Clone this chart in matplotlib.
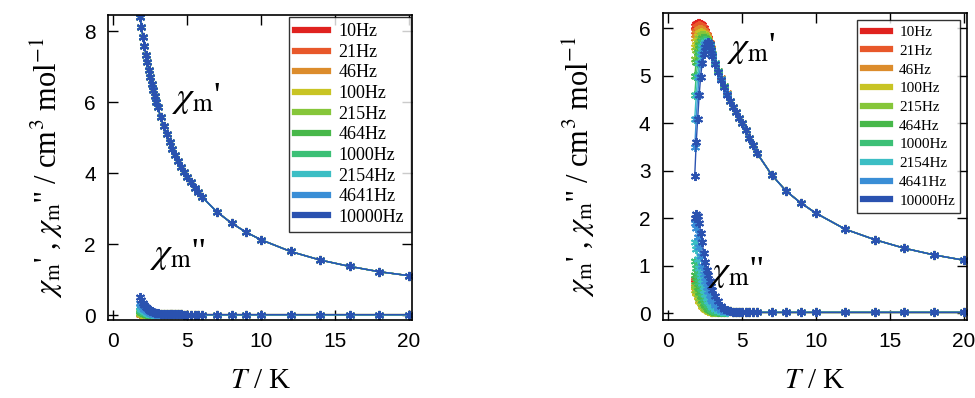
import matplotlib
matplotlib.use("Agg")
import matplotlib.pyplot as plt
import numpy as np
from matplotlib.lines import Line2D

plt.rcParams['mathtext.fontset'] = 'stix'

# ---- data ----
freqs = ["10Hz", "21Hz", "46Hz", "100Hz", "215Hz", "464Hz", "1000Hz", "2154Hz", "4641Hz", "10000Hz"]
colors = ["#e0221f", "#e8582a", "#dc8c2c", "#c8c424", "#86c63a", "#48b84a",
          "#3cc076", "#3cbec4", "#3a8ed6", "#2a52b0"]

# temperatures: dense low-T part and sparse high-T part
T_low = [1.8, 1.9, 2.0, 2.1, 2.2, 2.3, 2.4, 2.5, 2.6, 2.7, 2.8, 2.9, 3.0, 3.2, 3.4, 3.6, 3.8, 4.0]
T_high = [4.2, 4.4, 4.6, 4.8, 5.0, 5.25, 5.5, 5.75, 6.0, 7, 8, 9, 10, 12, 14, 16, 18, 20]

# left panel: chi' (all frequencies overlap)
chi1_left_low = [8.41, 8.11, 7.84, 7.58, 7.34, 7.12, 6.90, 6.71, 6.52, 6.34, 6.17, 6.01,
                 5.86, 5.58, 5.32, 5.09, 4.87, 4.68]
chi1_left_high = [4.50, 4.33, 4.17, 4.03, 3.89, 3.74, 3.59, 3.46, 3.33, 2.91, 2.59, 2.33,
                  2.12, 1.79, 1.55, 1.37, 1.22, 1.11]

# left panel: chi'' per frequency (low T), common tail
chi2_left_low = {
    "10Hz":    [0.02, 0.02, 0.02, 0.02, 0.02, 0.02, 0.02, 0.02, 0.02, 0.02, 0.03, 0.03, 0.04, 0.04, 0.04, 0.04, 0.03, 0.03],
    "21Hz":    [0.02, 0.02, 0.02, 0.02, 0.02, 0.02, 0.02, 0.02, 0.02, 0.02, 0.02, 0.03, 0.03, 0.03, 0.03, 0.03, 0.03, 0.02],
    "46Hz":    [0.03, 0.03, 0.03, 0.02, 0.02, 0.02, 0.02, 0.02, 0.02, 0.02, 0.02, 0.02, 0.02, 0.02, 0.02, 0.02, 0.02, 0.02],
    "100Hz":   [0.05, 0.04, 0.04, 0.03, 0.03, 0.02, 0.02, 0.02, 0.02, 0.02, 0.02, 0.02, 0.02, 0.02, 0.02, 0.02, 0.02, 0.02],
    "215Hz":   [0.07, 0.06, 0.05, 0.04, 0.03, 0.03, 0.03, 0.02, 0.02, 0.02, 0.02, 0.02, 0.02, 0.02, 0.02, 0.02, 0.02, 0.02],
    "464Hz":   [0.10, 0.08, 0.07, 0.05, 0.04, 0.04, 0.03, 0.03, 0.03, 0.02, 0.02, 0.02, 0.02, 0.02, 0.02, 0.02, 0.02, 0.02],
    "1000Hz":  [0.15, 0.12, 0.10, 0.08, 0.06, 0.05, 0.04, 0.04, 0.03, 0.03, 0.03, 0.02, 0.02, 0.02, 0.02, 0.02, 0.02, 0.02],
    "2154Hz":  [0.22, 0.18, 0.14, 0.11, 0.09, 0.07, 0.06, 0.05, 0.04, 0.04, 0.03, 0.03, 0.03, 0.02, 0.02, 0.02, 0.02, 0.02],
    "4641Hz":  [0.33, 0.27, 0.22, 0.18, 0.14, 0.11, 0.09, 0.07, 0.06, 0.05, 0.04, 0.04, 0.03, 0.03, 0.02, 0.02, 0.02, 0.02],
    "10000Hz": [0.50, 0.42, 0.35, 0.29, 0.24, 0.19, 0.15, 0.12, 0.10, 0.08, 0.07, 0.06, 0.05, 0.04, 0.03, 0.03, 0.02, 0.02],
}
chi2_left_high = [0.02, 0.02, 0.02, 0.01, 0.01, 0.01, 0.01, 0.01, 0.01, 0.01, 0.01, 0.01,
                  0.01, 0.01, 0.01, 0.01, 0.01, 0.01]

# right panel: chi' per frequency (low T), common tail
chi1_right_low = {
    "10Hz":    [6.05, 6.10, 6.12, 6.12, 6.10, 6.06, 6.00, 5.94, 5.87, 5.79, 5.70, 5.58, 5.47, 5.28, 5.11, 4.95, 4.79, 4.63],
    "21Hz":    [5.95, 6.02, 6.05, 6.06, 6.05, 6.02, 5.97, 5.92, 5.86, 5.78, 5.69, 5.58, 5.47, 5.28, 5.11, 4.95, 4.79, 4.63],
    "46Hz":    [5.80, 5.90, 5.96, 5.98, 5.98, 5.97, 5.93, 5.88, 5.83, 5.76, 5.68, 5.57, 5.46, 5.28, 5.11, 4.95, 4.79, 4.63],
    "100Hz":   [5.60, 5.74, 5.84, 5.90, 5.92, 5.91, 5.89, 5.85, 5.80, 5.74, 5.67, 5.57, 5.46, 5.27, 5.10, 4.94, 4.78, 4.62],
    "215Hz":   [5.35, 5.55, 5.70, 5.80, 5.85, 5.86, 5.85, 5.82, 5.78, 5.72, 5.65, 5.56, 5.46, 5.27, 5.10, 4.94, 4.78, 4.62],
    "464Hz":   [5.00, 5.30, 5.50, 5.65, 5.74, 5.79, 5.80, 5.79, 5.76, 5.71, 5.64, 5.55, 5.45, 5.27, 5.10, 4.94, 4.78, 4.62],
    "1000Hz":  [4.60, 5.00, 5.28, 5.48, 5.62, 5.71, 5.75, 5.76, 5.74, 5.69, 5.63, 5.54, 5.45, 5.26, 5.10, 4.94, 4.78, 4.62],
    "2154Hz":  [4.10, 4.60, 4.98, 5.26, 5.46, 5.60, 5.68, 5.72, 5.72, 5.68, 5.62, 5.53, 5.44, 5.26, 5.09, 4.93, 4.77, 4.61],
    "4641Hz":  [3.50, 4.10, 4.60, 4.98, 5.26, 5.46, 5.58, 5.66, 5.69, 5.67, 5.61, 5.52, 5.43, 5.25, 5.09, 4.93, 4.77, 4.61],
    "10000Hz": [2.90, 3.60, 4.10, 4.60, 4.98, 5.26, 5.46, 5.60, 5.68, 5.72, 5.66, 5.54, 5.42, 5.24, 5.08, 4.92, 4.76, 4.60],
}
chi1_right_high = [4.48, 4.35, 4.23, 4.11, 4.00, 3.85, 3.70, 3.55, 3.38, 2.92, 2.57, 2.32,
                   2.11, 1.77, 1.55, 1.37, 1.23, 1.12]

# right panel: chi'' per frequency (low T), common tail
chi2_right_low = {
    "10Hz":    [0.72, 0.65, 0.55, 0.45, 0.36, 0.28, 0.22, 0.17, 0.13, 0.10, 0.08, 0.06, 0.05, 0.04, 0.03, 0.03, 0.03, 0.03],
    "21Hz":    [0.68, 0.58, 0.47, 0.37, 0.29, 0.22, 0.17, 0.13, 0.10, 0.07, 0.05, 0.04, 0.03, 0.03, 0.03, 0.03, 0.03, 0.03],
    "46Hz":    [0.55, 0.45, 0.36, 0.28, 0.21, 0.16, 0.12, 0.09, 0.07, 0.05, 0.04, 0.03, 0.03, 0.03, 0.03, 0.03, 0.03, 0.03],
    "100Hz":   [0.50, 0.42, 0.34, 0.27, 0.21, 0.16, 0.12, 0.09, 0.07, 0.05, 0.04, 0.03, 0.03, 0.03, 0.03, 0.03, 0.03, 0.03],
    "215Hz":   [0.60, 0.50, 0.41, 0.33, 0.26, 0.20, 0.15, 0.12, 0.09, 0.07, 0.05, 0.04, 0.03, 0.03, 0.03, 0.03, 0.03, 0.03],
    "464Hz":   [0.80, 0.68, 0.56, 0.45, 0.36, 0.28, 0.22, 0.17, 0.13, 0.10, 0.08, 0.06, 0.05, 0.04, 0.03, 0.03, 0.03, 0.03],
    "1000Hz":  [1.10, 0.95, 0.80, 0.66, 0.53, 0.42, 0.33, 0.26, 0.21, 0.17, 0.13, 0.10, 0.08, 0.05, 0.04, 0.03, 0.03, 0.03],
    "2154Hz":  [1.50, 1.35, 1.15, 0.95, 0.78, 0.63, 0.50, 0.40, 0.32, 0.26, 0.21, 0.17, 0.14, 0.09, 0.06, 0.05, 0.04, 0.03],
    "4641Hz":  [1.90, 1.80, 1.60, 1.40, 1.20, 1.00, 0.83, 0.68, 0.56, 0.46, 0.38, 0.31, 0.26, 0.17, 0.12, 0.08, 0.06, 0.04],
    "10000Hz": [2.00, 2.10, 2.05, 1.90, 1.70, 1.50, 1.28, 1.08, 0.92, 0.80, 0.68, 0.58, 0.50, 0.37, 0.26, 0.16, 0.10, 0.06],
}
chi2_right_high = [0.04, 0.03, 0.03, 0.02, 0.02, 0.02, 0.02, 0.02, 0.02, 0.02, 0.02, 0.02,
                   0.02, 0.02, 0.02, 0.02, 0.02, 0.02]

T = np.array(T_low + T_high)

fig = plt.figure(figsize=(9.75, 3.98), dpi=100)
ax1 = fig.add_axes([0.111, 0.196, 0.312, 0.766])
ax2 = fig.add_axes([0.680, 0.196, 0.312, 0.771])

asterisk = (6, 2, 0)


def draw_series(ax, y, color):
    ax.plot(T, y, color=color, lw=1.0, marker=asterisk, ms=6.5, mew=1.4, zorder=2)


for f, c in zip(freqs, colors):
    draw_series(ax1, chi1_left_low + chi1_left_high, c)
    draw_series(ax1, chi2_left_low[f] + chi2_left_high, c)
    draw_series(ax2, chi1_right_low[f] + chi1_right_high, c)
    draw_series(ax2, chi2_right_low[f] + chi2_right_high, c)

serif = "Liberation Serif"
sans = "Liberation Sans"
ylabel = "$\\chi_{\\rm m}$' , $\\chi_{\\rm m}$'' / cm$^3$ mol$^{-1}$"

# (axes, ylabel pad, legend font size, legend row spacing, legend inset)
panels = ((ax1, 14, 13, 0.2, 0.1), (ax2, 30, 11, 0.33, 0.45))
for ax, lpad, lsize, lspace, lbax in panels:
    ax.set_xlim(-0.35, 20.25)
    ax.set_xticks([0, 5, 10, 15, 20])
    ax.tick_params(direction='in', top=True, right=True, length=7, width=1.0,
                   labelsize=15, pad=9)
    for lab in ax.get_xticklabels() + ax.get_yticklabels():
        lab.set_fontfamily(sans)
    for sp in ax.spines.values():
        sp.set_linewidth(1.2)
    ax.set_xlabel("$T$ / K", fontsize=21, family=serif, labelpad=12)
    ax.set_ylabel(ylabel, fontsize=22, family=serif, labelpad=lpad)
    handles = [Line2D([], [], color=c, lw=4.5) for c in colors]
    leg = ax.legend(handles, freqs, loc='upper right',
                    prop={'family': serif, 'size': lsize}, frameon=True, fancybox=False,
                    handlelength=1.8, handletextpad=0.6, labelspacing=lspace,
                    borderpad=0.35, borderaxespad=lbax)
    leg.get_frame().set_edgecolor('black')
    leg.get_frame().set_linewidth(1.0)

ax1.set_ylim(-0.14, 8.45)
ax1.set_yticks([0, 2, 4, 6, 8])
ax2.set_ylim(-0.14, 6.32)
ax2.set_yticks([0, 1, 2, 3, 4, 5, 6])

ax1.text(4.0, 6.1, "$\\chi_{\\rm m}$'", fontsize=26, family=serif, va='center')
ax1.text(2.5, 1.7, "$\\chi_{\\rm m}$''", fontsize=26, family=serif, va='center')
ax2.text(4.0, 5.58, "$\\chi_{\\rm m}$'", fontsize=26, family=serif, va='center')
ax2.text(2.7, 0.87, "$\\chi_{\\rm m}$''", fontsize=26, family=serif, va='center')

fig.savefig("out.png", dpi=100)
